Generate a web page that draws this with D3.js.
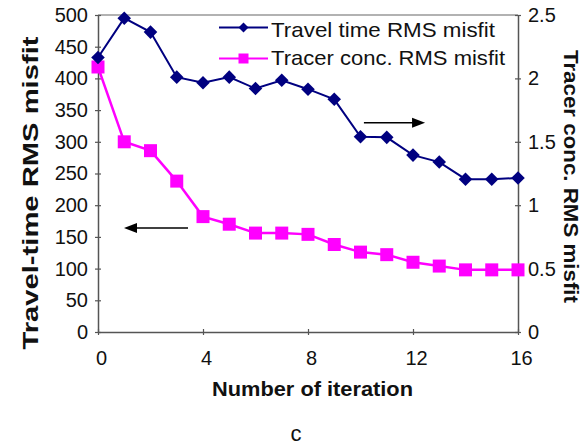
<!DOCTYPE html>
<html>
<head>
<meta charset="utf-8">
<script src="https://cdn.jsdelivr.net/npm/d3@7"></script>
<style>
  body { margin: 0; background: #fff; }
  svg { display: block; font-family: Arial, "Liberation Sans", sans-serif; }
</style>
</head>
<body>
<div id="chart"></div>
<script>
// values
const iterations = [0, 1, 2, 3, 4, 5, 6, 7, 8, 9, 10, 11, 12, 13, 14, 15, 16];
const travelTimeMisfit = [433, 495, 473, 402, 393, 402, 384, 397, 383, 367, 308, 307, 279, 268, 241, 241, 243];
const tracerMisfit = [2.09, 1.50, 1.43, 1.19, 0.91, 0.85, 0.78, 0.78, 0.77, 0.69, 0.63, 0.61, 0.55, 0.52, 0.49, 0.49, 0.49];
const xTicks = [0, 4, 8, 12, 16];
const leftTicks = [0, 50, 100, 150, 200, 250, 300, 350, 400, 450, 500];
const rightTicks = [0, 0.5, 1, 1.5, 2, 2.5];
const seriesNames = ['Travel time RMS misfit', 'Tracer conc. RMS misfit'];
// arrows in data units: [x from, x to, left-axis y]
const leftArrow = [3.43, 0.99, 164];
const rightArrow = [10.13, 12.46, 330];

const width = 584, height = 445;
const margin = { top: 15, right: 66, bottom: 113, left: 98 };

const svg = d3.select('#chart').append('svg')
  .attr('width', width)
  .attr('height', height);

const x = d3.scaleLinear().domain([0, 16]).range([margin.left, width - margin.right]);
const yL = d3.scaleLinear().domain([0, 500]).range([height - margin.bottom, margin.top]);
const yR = d3.scaleLinear().domain([0, 2.5]).range([height - margin.bottom, margin.top]);

// top border of the plot area
svg.append('line')
  .attr('x1', x(0)).attr('x2', x(16))
  .attr('y1', yL(500)).attr('y2', yL(500))
  .attr('stroke', '#999').attr('stroke-width', 1.5);

// axes
const axisColor = '#555';
const gx = svg.append('g')
  .attr('transform', `translate(0,${yL(0)})`)
  .call(d3.axisBottom(x).tickValues(xTicks).tickSizeInner(3).tickSizeOuter(0).tickPadding(16));
const gl = svg.append('g')
  .attr('transform', `translate(${x(0)},0)`)
  .call(d3.axisLeft(yL).tickValues(leftTicks).tickSizeInner(3).tickSizeOuter(0).tickPadding(7));
const gr = svg.append('g')
  .attr('transform', `translate(${x(16)},0)`)
  .call(d3.axisRight(yR).tickValues(rightTicks).tickFormat(d3.format('')).tickSizeInner(3).tickSizeOuter(0).tickPadding(7));

[gx, gl, gr].forEach(g => {
  g.select('.domain').attr('stroke', axisColor).attr('stroke-width', 1.5);
  g.selectAll('.tick line').attr('stroke', axisColor).attr('stroke-width', 1.2);
  g.selectAll('.tick text').attr('font-size', 20).attr('fill', '#111')
    .attr('font-family', 'Arial, "Liberation Sans", sans-serif');
});
// crossing tick marks
gx.selectAll('.tick line').attr('y1', -3).attr('y2', 3);
gl.selectAll('.tick line').attr('x1', 3).attr('x2', -3);
gr.selectAll('.tick line').attr('x1', -3).attr('x2', 3);
gx.selectAll('.tick text').attr('dx', 3);

// lines
const travelLine = d3.line().x((d, i) => x(iterations[i])).y(d => yL(d));
const tracerLine = d3.line().x((d, i) => x(iterations[i])).y(d => yR(d));

svg.append('path').datum(tracerMisfit)
  .attr('d', tracerLine).attr('fill', 'none')
  .attr('stroke', '#ff00ff').attr('stroke-width', 2.5);
svg.selectAll('.sq').data(tracerMisfit).enter().append('path')
  .attr('d', d3.symbol(d3.symbolSquare, 169))
  .attr('transform', (d, i) => `translate(${x(iterations[i])},${yR(d)})`)
  .attr('fill', '#ff00ff');

svg.append('path').datum(travelTimeMisfit)
  .attr('d', travelLine).attr('fill', 'none')
  .attr('stroke', '#000080').attr('stroke-width', 2);
svg.selectAll('.dm').data(travelTimeMisfit).enter().append('path')
  .attr('d', d3.symbol(d3.symbolSquare, 92))
  .attr('transform', (d, i) => `translate(${x(iterations[i])},${yL(d)}) rotate(45)`)
  .attr('fill', '#000080');

// arrows
function arrow(a) {
  const x1 = x(a[0]), x2 = x(a[1]), yy = yL(a[2]);
  const dir = x2 > x1 ? 1 : -1;
  svg.append('line')
    .attr('x1', x1).attr('x2', x2 - dir * 8).attr('y1', yy).attr('y2', yy)
    .attr('stroke', '#000').attr('stroke-width', 1.5);
  svg.append('path')
    .attr('d', `M${x2},${yy} L${x2 - dir * 13},${yy - 5} L${x2 - dir * 13},${yy + 5} Z`)
    .attr('fill', '#000');
}
arrow(leftArrow);
arrow(rightArrow);

// legend
const legend = svg.append('g');
const rows = [
  { name: seriesNames[0], color: '#000080', y: 27.5, base: 37, len: 224, sym: 'diamond' },
  { name: seriesNames[1], color: '#ff00ff', y: 58.5, base: 65, len: 234, sym: 'square' }
];
rows.forEach(r => {
  legend.append('line')
    .attr('x1', 219).attr('x2', 268).attr('y1', r.y).attr('y2', r.y)
    .attr('stroke', r.color).attr('stroke-width', 2);
  legend.append('path')
    .attr('d', d3.symbol(d3.symbolSquare, r.sym === 'diamond' ? 50 : 100))
    .attr('transform', `translate(243.5,${r.y})` + (r.sym === 'diamond' ? ' rotate(45)' : ''))
    .attr('fill', r.color);
  legend.append('text')
    .attr('x', 271).attr('y', r.base)
    .attr('font-size', 21).attr('fill', '#111')
    .attr('textLength', r.len).attr('lengthAdjust', 'spacingAndGlyphs')
    .text(r.name);
});

// axis titles
svg.append('text')
  .attr('transform', 'translate(38,193) rotate(-90)')
  .attr('text-anchor', 'middle')
  .attr('font-size', 22).attr('font-weight', 'bold').attr('fill', '#111')
  .attr('textLength', 313).attr('lengthAdjust', 'spacingAndGlyphs')
  .text('Travel-time RMS misfit');

svg.append('text')
  .attr('transform', 'translate(564,176.5) rotate(90)')
  .attr('text-anchor', 'middle')
  .attr('font-size', 21).attr('font-weight', 'bold').attr('fill', '#111')
  .attr('textLength', 253).attr('lengthAdjust', 'spacingAndGlyphs')
  .text('Tracer conc. RMS misfit');

svg.append('text')
  .attr('x', 312.5).attr('y', 396)
  .attr('text-anchor', 'middle')
  .attr('font-size', 20).attr('font-weight', 'bold').attr('fill', '#111')
  .attr('textLength', 201).attr('lengthAdjust', 'spacingAndGlyphs')
  .text('Number of iteration');

svg.append('text')
  .attr('x', 296).attr('y', 441)
  .attr('text-anchor', 'middle')
  .attr('font-size', 22).attr('fill', '#111')
  .text('c');
</script>
</body>
</html>
